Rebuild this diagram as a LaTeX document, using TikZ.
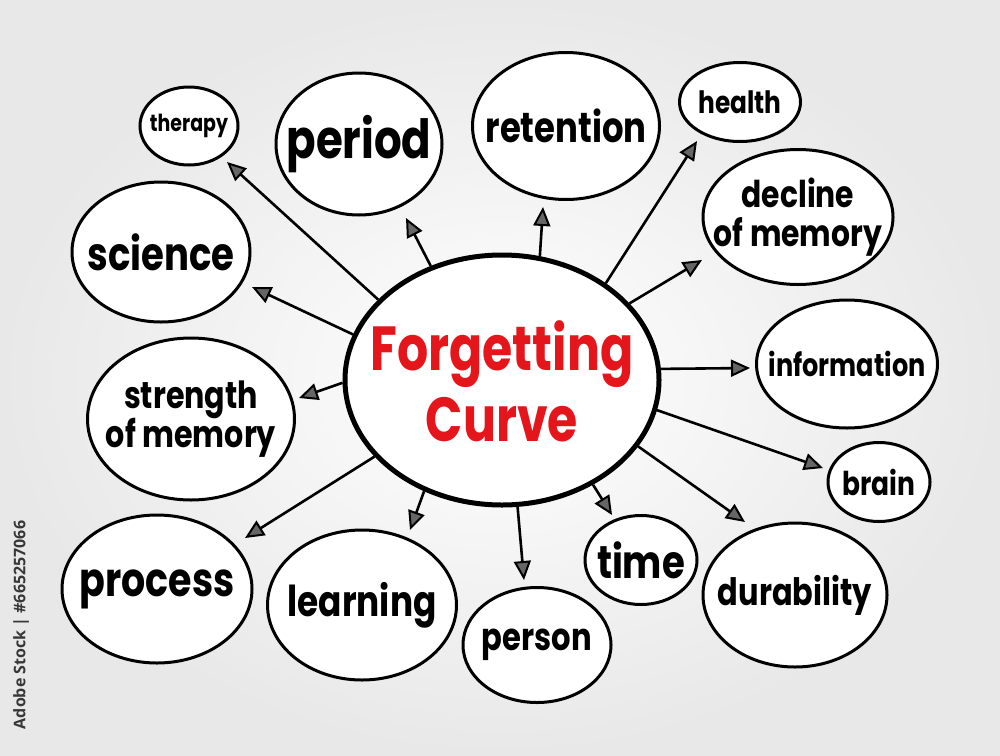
\documentclass[tikz,border=0pt]{standalone}
\usepackage{fontspec}
\setmainfont{Poppins}
\newfontfamily\wmfont{Open Sans}
\usetikzlibrary{arrows.meta,shapes.geometric}
\definecolor{fcred}{RGB}{228,22,28}
\definecolor{wmgray}{RGB}{55,55,55}
\newcommand\fitw[2]{\resizebox{#1pt}{!}{\scalebox{1}[1.24]{#2}}}
\newcommand\twol[2]{\renewcommand\arraystretch{0.72}\begin{tabular}{@{}c@{}}#1\\#2\end{tabular}}
\begin{document}
\begin{tikzpicture}[x=1pt,y=-1pt,
  bub/.style={ellipse, draw=black, line width=3pt, inner sep=0pt, fill=white},
  lab/.style={inner sep=0pt, text=black, font=\bfseries},
  arr/.style={line width=2.6pt, -{Triangle[length=19pt,width=17pt,fill=black!60,line width=2pt]}}]
\useasboundingbox (0,0) rectangle (1000,755);
\shade[inner color=white, outer color=black!9] (0,0) rectangle (1000,755);
% centre
\node[bub, line width=5pt, minimum width=314pt, minimum height=250pt] (fc) at (502,380) {};
\node[lab, text=fcred, anchor=center] (fctext) at (502,392)
  {\resizebox{263pt}{!}{\scalebox{1}[1.27]{\renewcommand\arraystretch{0.95}\begin{tabular}{@{}c@{}}Forgetting\\Curve\end{tabular}}}};
% satellites
\node[bub, minimum width=98pt, minimum height=78pt, label={[lab]center:{\fitw{78}{therapy}}}] (therapy) at (189,126) {};
\node[bub, minimum width=166pt, minimum height=142pt, label={[lab]center:{\fitw{145}{period}}}] (period) at (359,144) {};
\node[bub, minimum width=187pt, minimum height=147pt, label={[lab]center:{\fitw{161}{retention}}}] (retention) at (566,126) {};
\node[bub, minimum width=121pt, minimum height=79pt, label={[lab]center:{\fitw{83}{health}}}] (health) at (740,102) {};
\node[bub, minimum width=190pt, minimum height=135pt, label={[lab]center:{\fitw{168}{\twol{decline}{of memory}}}}] (decline) at (798,217) {};
\node[bub, minimum width=178pt, minimum height=140pt, label={[lab]center:{\fitw{147}{science}}}] (science) at (161,252) {};
\node[bub, minimum width=181pt, minimum height=128pt, label={[lab]center:{\fitw{157}{information}}}] (information) at (847,364) {};
\node[bub, minimum width=207pt, minimum height=162pt, label={[lab]center:{\fitw{170}{\twol{strength}{of memory}}}}] (strength) at (191,419) {};
\node[bub, minimum width=102pt, minimum height=79pt, label={[lab]center:{\fitw{73}{brain}}}] (brain) at (879,482) {};
\node[bub, minimum width=190pt, minimum height=148pt, label={[lab]center:{\fitw{155}{process}}}] (process) at (157,589) {};
\node[bub, minimum width=189pt, minimum height=150pt, label={[lab]center:{\fitw{149}{learning}}}] (learning) at (362,605) {};
\node[bub, minimum width=148pt, minimum height=115pt, label={[lab]center:{\fitw{110}{person}}}] (person) at (537,645) {};
\node[bub, minimum width=112pt, minimum height=89pt, label={[lab]center:{\fitw{88}{time}}}] (time) at (641,560) {};
\node[bub, minimum width=184pt, minimum height=144pt, label={[lab]center:{\fitw{154}{durability}}}] (durability) at (795,595) {};
% arrow tips
\coordinate (tTherapy) at (227,162);
\coordinate (tPeriod) at (406,218);
\coordinate (tRetention) at (543,207);
\coordinate (tHealth) at (697,141);
\coordinate (tDecline) at (702,260);
\coordinate (tScience) at (252,287);
\coordinate (tStrength) at (299,398);
\coordinate (tInformation) at (750,368);
\coordinate (tBrain) at (823,468);
\coordinate (tDurability) at (745,522);
\coordinate (tTime) at (612,515);
\coordinate (tPerson) at (524,580);
\coordinate (tLearning) at (410,530);
\coordinate (tProcess) at (245,538);
% arrows
\draw[arr] (fc.147.8) -- (tTherapy);
\draw[arr] (fc.122) -- (tPeriod);
\draw[arr] (fc.73.6) -- (tRetention);
\draw[arr] (fc.43.9) -- (tHealth);
\draw[arr] (fc.31.6) -- (tDecline);
\draw[arr] (fc.163.3) -- (tScience);
\draw[arr] (fc.181.8) -- (tStrength);
\draw[arr] (fc.4.3) -- (tInformation);
\draw[arr] (fc.-11.5) -- (tBrain);
\draw[arr] (fc.-26) -- (tDurability);
\draw[arr] (fc.-49.3) -- (tTime);
\draw[arr] (fc.-83.6) -- (tPerson);
\draw[arr] (fc.-125) -- (tLearning);
\draw[arr] (fc.-149.4) -- (tProcess);
% stock label
\node[rotate=90, text=wmgray, font=\wmfont\bfseries\fontsize{16}{18}\selectfont] (stock) at (21,625) {Adobe Stock | \#665257066};
\end{tikzpicture}
\end{document}
